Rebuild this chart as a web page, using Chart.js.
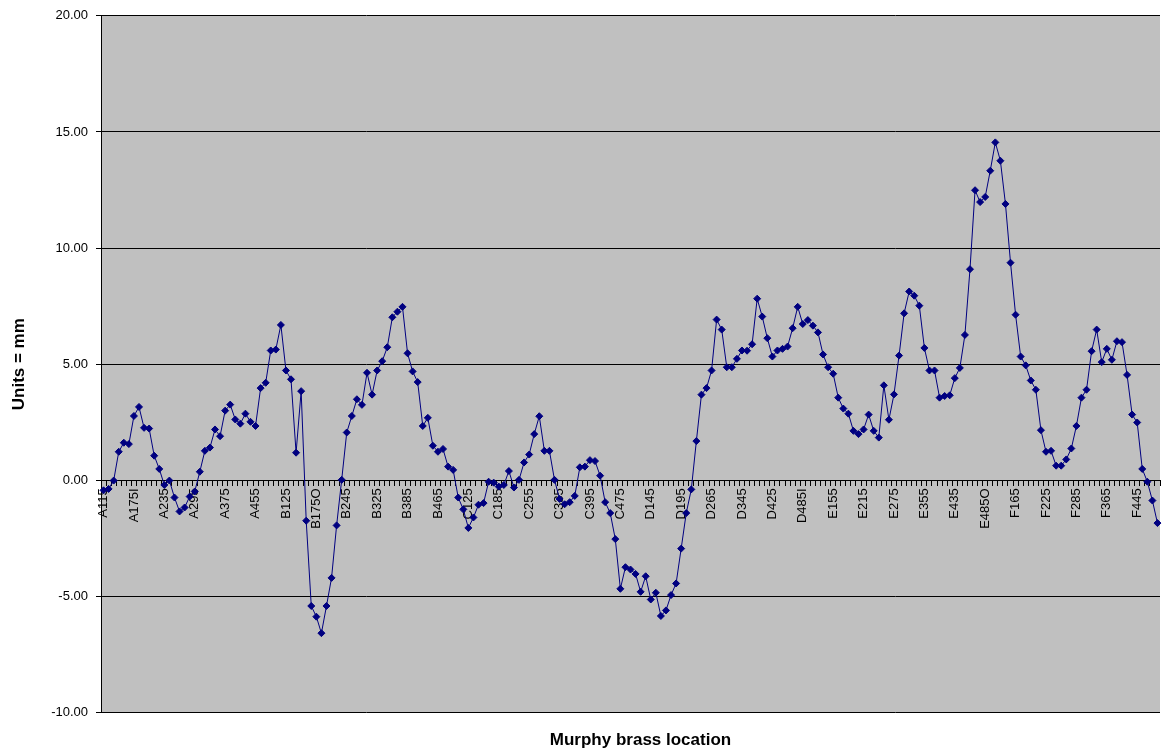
<!DOCTYPE html>
<html>
<head>
<meta charset="utf-8">
<script src="https://cdn.jsdelivr.net/npm/chart.js@4.4.1/dist/chart.umd.min.js"></script>
<style>
html,body{margin:0;padding:0;background:#ffffff;}
#wrap{width:1162px;height:751px;position:relative;}
</style>
</head>
<body>
<div id="wrap"><canvas id="c" width="1162" height="751"></canvas></div>
<script>
// Visible category labels (every 6th location)
const tickLabels = ["A115","A175I","A235","A295","A375","A455","B125","B175O","B245","B325","B385","B465",
  "C125","C185","C255","C335","C395","C475","D145","D195","D265","D345","D425","D485I",
  "E155","E215","E275","E355","E435","E485O","F165","F225","F285","F365","F445"];
const labelEvery = 6;

// Offsets in mm, one per brass location
const offsets = [
  -0.43,-0.37,-0.01,1.23,1.62,1.56,2.77,3.16,2.26,2.23,1.06,0.49,
  -0.20,-0.01,-0.74,-1.34,-1.17,-0.70,-0.48,0.37,1.27,1.41,2.19,1.90,
  3.00,3.26,2.62,2.44,2.87,2.52,2.34,3.97,4.20,5.59,5.63,6.69,
  4.73,4.35,1.19,3.84,-1.74,-5.41,-5.87,-6.58,-5.41,-4.20,-1.94,0.02,
  2.06,2.77,3.49,3.25,4.63,3.69,4.73,5.13,5.73,7.02,7.26,7.47,
  5.47,4.69,4.23,2.34,2.69,1.49,1.23,1.35,0.59,0.45,-0.74,-1.25,
  -2.05,-1.60,-1.05,-0.98,-0.06,-0.10,-0.27,-0.20,0.40,-0.31,0.02,0.77,
  1.11,1.99,2.76,1.27,1.27,0.02,-0.80,-1.03,-0.94,-0.67,0.56,0.59,
  0.87,0.83,0.20,-0.94,-1.41,-2.53,-4.67,-3.74,-3.84,-4.03,-4.80,-4.13,
  -5.13,-4.84,-5.84,-5.60,-4.94,-4.44,-2.94,-1.41,-0.39,1.69,3.69,3.97,
  4.73,6.92,6.49,4.87,4.87,5.23,5.59,5.58,5.86,7.82,7.05,6.12,
  5.33,5.59,5.66,5.76,6.55,7.47,6.73,6.90,6.66,6.37,5.42,4.87,
  4.59,3.56,3.09,2.87,2.13,1.99,2.19,2.83,2.13,1.84,4.09,2.61,
  3.70,5.37,7.19,8.13,7.95,7.52,5.70,4.73,4.73,3.56,3.63,3.66,
  4.40,4.84,6.26,9.09,12.49,11.98,12.20,13.33,14.55,13.76,11.90,9.37,
  7.13,5.33,4.95,4.30,3.90,2.16,1.23,1.27,0.63,0.63,0.90,1.37,
  2.34,3.56,3.90,5.56,6.49,5.09,5.66,5.19,5.99,5.95,4.54,2.83,
  2.49,0.49,-0.06,-0.87,-1.84
];

// Value axis ticks
const yTicks = [-10, -5, 0, 5, 10, 15, 20];

const categories = offsets.map((v, i) => (i % labelEvery === 0 ? (tickLabels[i / labelEvery] || '') : ''));

const plotBg = {
  id: 'plotBg',
  beforeDraw(chart) {
    const {ctx, chartArea} = chart;
    ctx.save();
    ctx.fillStyle = '#C0C0C0';
    ctx.fillRect(chartArea.left, chartArea.top, chartArea.right - chartArea.left, chartArea.bottom - chartArea.top);
    ctx.restore();
  }
};

// nudge the bottom title slightly right, as in the original
const titleNudge = {
  id: 'titleNudge',
  afterLayout(chart) {
    const t = chart.titleBlock;
    if (t) { t.left += 10; t.right += 10; }
  }
};

const FONT = '"Liberation Sans", Arial, sans-serif';

new Chart(document.getElementById('c'), {
  type: 'line',
  data: {
    labels: categories,
    datasets: [{
      data: offsets,
      borderColor: '#000080',
      borderWidth: 1,
      backgroundColor: '#000080',
      pointStyle: 'rectRot',
      pointRadius: 3.5,
      pointBackgroundColor: '#000080',
      pointBorderColor: '#000080',
      pointBorderWidth: 1,
      tension: 0,
      fill: false,
      clip: 4
    }]
  },
  options: {
    responsive: false,
    animation: false,
    devicePixelRatio: 1,
    layout: {autoPadding: false, padding: {left: 0, right: 2, top: 12, bottom: 0}},
    plugins: {
      legend: {display: false},
      tooltip: {enabled: false},
      title: {
        display: true,
        text: 'Murphy brass location',
        position: 'bottom',
        fullSize: false,
        color: '#000000',
        font: {family: FONT, size: 17, weight: 'bold'},
        padding: {top: 18, bottom: 0}
      }
    },
    scales: {
      x: {
        type: 'category',
        position: {y: 0},
        offset: true,
        afterFit(scale) { scale.paddingLeft = 0; scale.paddingRight = 0; },
        grid: {
          display: true,
          drawOnChartArea: false,
          drawTicks: true,
          tickLength: 5,
          tickColor: '#000000',
          offset: true
        },
        border: {display: true, color: '#000000', width: 1},
        ticks: {
          autoSkip: false,
          minRotation: 90,
          maxRotation: 90,
          padding: 3,
          color: '#000000',
          font: {family: FONT, size: 13}
        }
      },
      y: {
        min: -10,
        max: 20,
        afterBuildTicks(scale) { scale.ticks = yTicks.map(v => ({value: v})); },
        afterFit(scale) { scale.width = 101; },
        grid: {
          color: '#000000',
          lineWidth: 1,
          drawTicks: true,
          tickLength: 5,
          tickColor: '#000000'
        },
        border: {display: true, color: '#000000', width: 1},
        ticks: {
          padding: 8,
          color: '#000000',
          font: {family: FONT, size: 13},
          callback: (v) => Number(v).toFixed(2)
        },
        title: {
          display: true,
          text: 'Units = mm',
          color: '#000000',
          font: {family: FONT, size: 17, weight: 'bold'},
          padding: {top: 9, bottom: 0}
        }
      }
    }
  },
  plugins: [plotBg, titleNudge]
});
</script>
</body>
</html>
